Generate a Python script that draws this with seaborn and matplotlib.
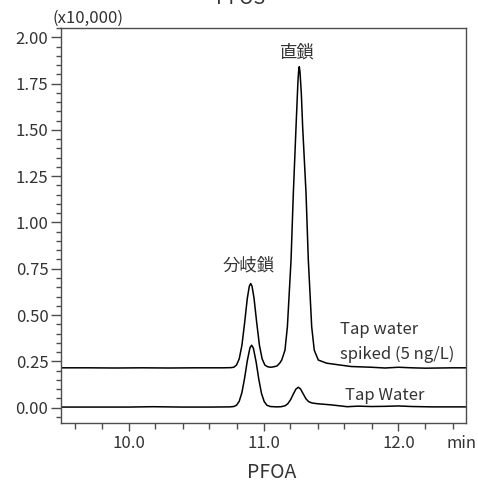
import numpy as np
import pandas as pd
import matplotlib
matplotlib.use("Agg")
import matplotlib.pyplot as plt
import seaborn as sns

# ---- data (time in min, intensity in x10,000) ----
spiked_t = [9.50, 9.70, 9.90, 10.10, 10.30, 10.50, 10.70, 10.76, 10.78, 10.80,
            10.82, 10.84, 10.86, 10.88, 10.895, 10.905, 10.915, 10.93, 10.95, 10.97,
            10.99, 11.01, 11.03, 11.05, 11.073, 11.10, 11.12, 11.135, 11.159, 11.177,
            11.204, 11.221, 11.241, 11.255, 11.26, 11.265, 11.27, 11.28, 11.29, 11.315,
            11.332, 11.357, 11.376, 11.406, 11.468, 11.567, 11.65, 11.80, 11.90, 12.00,
            12.10, 12.20, 12.30, 12.40, 12.50]
spiked_v = [0.215, 0.215, 0.214, 0.215, 0.214, 0.215, 0.215, 0.216, 0.218, 0.230,
            0.263, 0.336, 0.457, 0.590, 0.656, 0.670, 0.656, 0.590, 0.457, 0.336,
            0.263, 0.230, 0.221, 0.218, 0.220, 0.225, 0.240, 0.257, 0.310, 0.437,
            0.797, 1.158, 1.517, 1.760, 1.815, 1.841, 1.815, 1.700, 1.517, 1.158,
            0.797, 0.437, 0.310, 0.257, 0.240, 0.230, 0.222, 0.218, 0.214, 0.218,
            0.215, 0.213, 0.214, 0.215, 0.215]

tap_t = [9.50, 9.80, 10.00, 10.18, 10.40, 10.60, 10.75, 10.78, 10.80, 10.82,
         10.84, 10.86, 10.88, 10.90, 10.912, 10.925, 10.945, 10.965, 10.985, 11.005,
         11.025, 11.05, 11.098, 11.13, 11.16, 11.18, 11.20, 11.22, 11.24, 11.258,
         11.275, 11.295, 11.315, 11.335, 11.36, 11.40, 11.45, 11.50, 11.56, 11.62,
         11.70, 11.80, 11.90, 12.00, 12.10, 12.25, 12.50]
tap_v = [0.003, 0.003, 0.003, 0.005, 0.003, 0.003, 0.004, 0.006, 0.013, 0.034,
         0.081, 0.159, 0.253, 0.324, 0.337, 0.321, 0.248, 0.154, 0.077, 0.033,
         0.013, 0.006, 0.004, 0.005, 0.010, 0.021, 0.042, 0.072, 0.100, 0.110,
         0.100, 0.073, 0.047, 0.032, 0.025, 0.021, 0.018, 0.015, 0.010, 0.005,
         0.008, 0.006, 0.007, 0.009, 0.006, 0.004, 0.004]

sample_names = ["Tap water spiked (5 ng/L)", "Tap Water"]
y_ticks = [0.00, 0.25, 0.50, 0.75, 1.00, 1.25, 1.50, 1.75, 2.00]
x_ticks = [10.0, 11.0, 12.0]

df = pd.concat([
    pd.DataFrame({"time": spiked_t, "intensity": spiked_v, "sample": sample_names[0]}),
    pd.DataFrame({"time": tap_t, "intensity": tap_v, "sample": sample_names[1]}),
], ignore_index=True)

sns.set_style("ticks")
plt.rcParams["font.family"] = ["Noto Sans CJK JP", "DejaVu Sans"]

TXT = "#333333"
SP = "#4d4d4d"
FS = 12

fig = plt.figure(figsize=(4.78, 4.84), dpi=100)
ax = fig.add_axes([61/478, 1-423/484, (466-61)/478, (423-28)/484])

sns.lineplot(data=df, x="time", y="intensity", hue="sample", units="sample",
             estimator=None, sort=False, palette=["black", "black"],
             linewidth=1.1, legend=False, ax=ax)

ax.set_xlim(9.5, 12.5)
ax.set_ylim(-0.083, 2.05)
ax.set_xticks(x_ticks)
ax.set_xticklabels([f"{v:.1f}" for v in x_ticks])
ax.set_xticks([9.6, 9.8, 10.2, 10.4, 10.6, 10.8, 11.2, 11.4, 11.6, 11.8, 12.2, 12.4], minor=True)
ax.set_yticks(y_ticks)
ax.set_yticklabels([f"{v:.2f}" for v in y_ticks])
ax.set_yticks(np.round(np.arange(-0.05, 2.051, 0.05), 2), minor=True)
ax.set_xlabel("")
ax.set_ylabel("")

for s in ax.spines.values():
    s.set_visible(True)
    s.set_color(SP)
    s.set_linewidth(1.0)

ax.tick_params(axis="both", which="major", labelsize=FS, colors=SP, labelcolor=TXT,
               width=1.0, direction="out")
ax.tick_params(axis="x", which="major", length=6, pad=3)
ax.tick_params(axis="x", which="minor", length=4.5, width=1.0, colors=SP)
ax.tick_params(axis="y", which="major", length=7, pad=2)
ax.tick_params(axis="y", which="minor", length=3.5, width=1.0, colors=SP)

# annotations
ax.text(11.248, 1.915, "直鎖", ha="center", va="center", fontsize=12.5, color=TXT)
ax.text(10.893, 0.765, "分岐鎖", ha="center", va="center", fontsize=12.5, color=TXT)
ax.text(11.567, 0.42, "Tap water", ha="left", va="center", fontsize=FS, color=TXT)
ax.text(11.567, 0.285, "spiked (5 ng/L)", ha="left", va="center", fontsize=FS, color=TXT)
ax.text(11.604, 0.063, "Tap Water", ha="left", va="center", fontsize=FS, color=TXT)

fig.text(461/478, 1-443/484, "min", ha="center", va="center", fontsize=FS, color=TXT)
fig.text(53/478, 1-18/484, "(x10,000)", ha="left", va="center", fontsize=FS, color=TXT)
fig.text(272/478, 1-472/484, "PFOA", ha="center", va="center", fontsize=14, color=TXT)
fig.text(241/478, 1-3.5/484, "PFOS", ha="center", va="baseline", fontsize=14, color=TXT)

fig.savefig("out.png", dpi=100)
